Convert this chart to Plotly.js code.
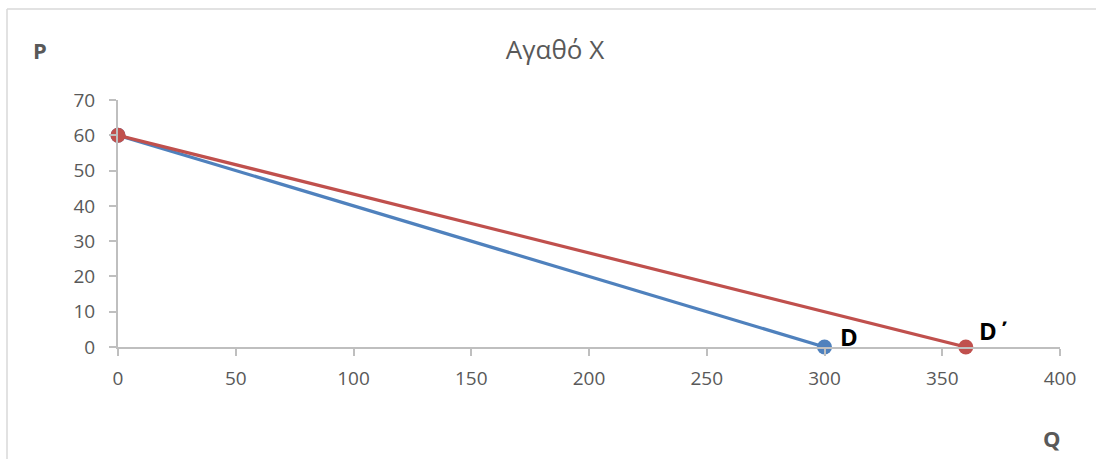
<!DOCTYPE html>
<html>
<head>
<meta charset="utf-8">
<script src="https://cdn.plot.ly/plotly-3.0.1.min.js"></script>
<style>html,body{margin:0;padding:0;background:#fff;}#chart{width:1096px;height:459px;}</style>
</head>
<body>
<div id="chart"></div>
<script>
// Data
const demandQ = [0, 300];
const demandP = [60, 0];
const newDemandQ = [0, 360];
const newDemandP = [60, 0];
const seriesNames = ["D", "D΄"];
const xTicks = [0, 50, 100, 150, 200, 250, 300, 350, 400];
const yTicks = [0, 10, 20, 30, 40, 50, 60, 70];
const chartTitle = "Αγαθό Χ";
const xLabel = "Q";
const yLabel = "P";

const font = "'Open Sans', 'Liberation Sans', sans-serif";
const grey = "#595959";

const W = 1096, H = 459, ML = 118, MR = 36, MT = 100, MB = 112;
const pw = W - ML - MR, ph = H - MT - MB;
const toX = px => (px - ML) / pw;
const toY = py => (H - MB - py) / ph;

const traces = [
  {
    x: demandQ, y: demandP, mode: "lines+markers", name: seriesNames[0],
    line: {color: "#4F81BD", width: 3.2},
    marker: {color: "#4F81BD", size: 15},
    cliponaxis: false
  },
  {
    x: newDemandQ, y: newDemandP, mode: "lines+markers", name: seriesNames[1],
    line: {color: "#C0504D", width: 3.2},
    marker: {color: "#C0504D", size: 15},
    cliponaxis: false
  }
];

const layout = {
  width: W, height: H,
  margin: {l: ML, r: MR, t: MT, b: MB},
  paper_bgcolor: "#fff", plot_bgcolor: "#fff",
  showlegend: false,
  font: {family: font, color: grey},
  title: {text: chartTitle, font: {size: 26, color: grey, family: font},
          x: 555 / W, xref: "container", xanchor: "center", y: 1 - 50 / H, yref: "container", yanchor: "middle"},
  xaxis: {
    range: [0, 400], tickvals: xTicks, ticktext: xTicks.map(String),
    showgrid: false, zeroline: false, showline: true, linecolor: "#BFBFBF", linewidth: 2,
    ticks: "outside", ticklen: 7, tickwidth: 2, tickcolor: "#BFBFBF",
    tickfont: {size: 19, color: grey, family: font}, ticklabelstandoff: 6,
    fixedrange: true
  },
  yaxis: {
    range: [0, 70], tickvals: yTicks, ticktext: yTicks.map(String),
    showgrid: false, zeroline: false, showline: true, linecolor: "#BFBFBF", linewidth: 2,
    ticks: "outside", ticklen: 7, tickwidth: 2, tickcolor: "#BFBFBF",
    tickfont: {size: 19, color: grey, family: font}, ticklabelstandoff: 10,
    fixedrange: true
  },
  annotations: [
    {x: demandQ[1], y: demandP[1], xref: "x", yref: "y", text: "<b>" + seriesNames[0] + "</b>", showarrow: false,
     xanchor: "left", yanchor: "middle", xshift: 13, yshift: 11, font: {size: 24, color: "#000", family: font}},
    {x: newDemandQ[1], y: newDemandP[1], xref: "x", yref: "y", text: "<b>" + seriesNames[1] + "</b>", showarrow: false,
     xanchor: "left", yanchor: "middle", xshift: 11, yshift: 17, font: {size: 24, color: "#000", family: font}},
    {x: toX(40), y: toY(50), xref: "paper", yref: "paper", text: "<b>" + yLabel + "</b>", showarrow: false,
     xanchor: "center", yanchor: "middle", font: {size: 22, color: grey, family: font}},
    {x: toX(1052), y: toY(438), xref: "paper", yref: "paper", text: "<b>" + xLabel + "</b>", showarrow: false,
     xanchor: "center", yanchor: "middle", font: {size: 22, color: grey, family: font}}
  ],
  shapes: [
    {type: "line", xref: "paper", yref: "paper", x0: toX(7), x1: toX(W), y0: toY(9), y1: toY(9), line: {color: "#D9D9D9", width: 1.5}},
    {type: "line", xref: "paper", yref: "paper", x0: toX(7), x1: toX(7), y0: toY(9), y1: toY(H), line: {color: "#D9D9D9", width: 1.5}}
  ]
};

Plotly.newPlot("chart", traces, layout, {displayModeBar: false, staticPlot: true});
</script>
</body>
</html>
